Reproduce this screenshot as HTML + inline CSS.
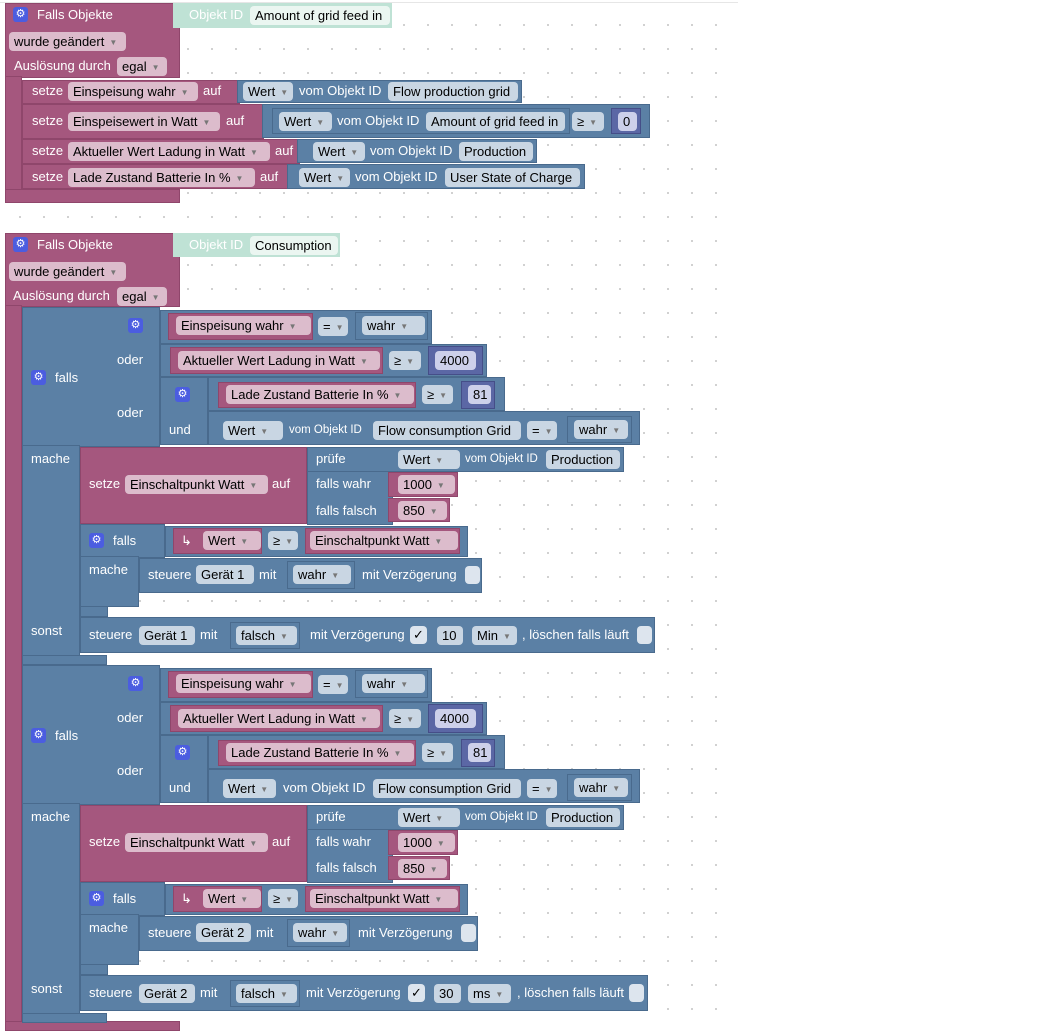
<!DOCTYPE html>
<html><head><meta charset="utf-8"><style>
body{margin:0;width:1046px;height:1031px;background:#fff;position:relative;overflow:hidden;font-family:"Liberation Sans",sans-serif}
.a{position:absolute}
.grid{position:absolute;left:0;top:2px;width:738px;height:1029px;border-top:1px solid #e6e6e6;background-image:radial-gradient(circle,#c8c8c8 0.8px,transparent 1.2px);background-size:24px 24px;background-position:8px 10px}
.M{position:absolute;background:#a5577e;box-shadow:inset 0 0 0 1px rgba(80,20,50,.25)}
.B{position:absolute;background:#5b80a5;box-shadow:inset 0 0 0 1px rgba(20,40,70,.25)}
.N{position:absolute;background:#5b67a5;box-shadow:inset 0 0 0 1px rgba(20,20,70,.3)}
.T{position:absolute;background:#bfe2d5}
.w{position:absolute;color:#fff;font-size:13px;line-height:20px;height:20px;white-space:nowrap}
.s{font-size:11.5px}
.p{position:absolute;height:19px;line-height:19px;border-radius:4px;font-size:13px;padding-left:5px;box-sizing:border-box;color:#000;white-space:nowrap}
.pm{background:#dcbccc}.pb{background:#c9d6e3}.pn{background:#cdd0ea}.pt{background:#ebf6f1}
.p i{font-style:normal;font-size:8px;color:#777;margin-left:5px;vertical-align:1px}
.g{position:absolute;width:15px;height:15px;background:#4b5de0;border-radius:3px;color:#fff;font-size:11px;line-height:15px;text-align:center}
.cb{position:absolute;width:15px;height:18px;background:#dde5ee;border-radius:4px;font-size:13px;line-height:18px;text-align:center;color:#000}
</style></head><body>
<div class="grid"></div>

<!-- BLOCK 1 -->
<div class="M" style="left:5px;top:3px;width:175px;height:75px"></div>
<div class="M" style="left:5px;top:76px;width:17px;height:116px"></div>
<div class="M" style="left:5px;top:189px;width:175px;height:14px"></div>
<div class="g" style="left:13px;top:7px">⚙</div>
<div class="w" style="left:37px;top:5px">Falls Objekte</div>
<div class="p pm" style="left:9px;top:32px;width:117px">wurde geändert<i>▼</i></div>
<div class="w" style="left:14px;top:56px">Auslösung durch</div>
<div class="p pm" style="left:117px;top:57px;width:50px">egal<i>▼</i></div>
<div class="T" style="left:173px;top:3px;width:219px;height:25px"></div>
<div class="w" style="left:189px;top:5px">Objekt ID</div>
<div class="p pt" style="left:250px;top:6px;width:140px">Amount of grid feed in</div>

<div class="M" style="left:22px;top:80px;width:218px;height:24px"></div>
<div class="w" style="left:32px;top:81px">setze</div>
<div class="p pm" style="left:68px;top:82px;width:130px">Einspeisung wahr<i>▼</i></div>
<div class="w" style="left:203px;top:81px">auf</div>
<div class="B" style="left:237px;top:80px;width:285px;height:23px"></div>
<div class="p pb" style="left:243px;top:82px;width:50px">Wert<i>▼</i></div>
<div class="w" style="left:299px;top:81px">vom Objekt ID</div>
<div class="p pb" style="left:388px;top:82px;width:130px">Flow production grid</div>

<div class="M" style="left:22px;top:104px;width:242px;height:35px"></div>
<div class="w" style="left:32px;top:111px">setze</div>
<div class="p pm" style="left:68px;top:112px;width:152px">Einspeisewert in Watt<i>▼</i></div>
<div class="w" style="left:226px;top:111px">auf</div>
<div class="B" style="left:262px;top:104px;width:388px;height:34px"></div>
<div class="B" style="left:272px;top:108px;width:298px;height:26px"></div>
<div class="p pb" style="left:279px;top:112px;width:53px">Wert<i>▼</i></div>
<div class="w" style="left:337px;top:111px">vom Objekt ID</div>
<div class="p pb" style="left:426px;top:112px;width:139px">Amount of grid feed in</div>
<div class="p pb" style="left:572px;top:112px;width:32px">≥<i>▼</i></div>
<div class="N" style="left:611px;top:108px;width:30px;height:26px"></div>
<div class="p pn" style="left:618px;top:112px;width:19px">0</div>

<div class="M" style="left:22px;top:139px;width:278px;height:25px"></div>
<div class="w" style="left:32px;top:141px">setze</div>
<div class="p pm" style="left:68px;top:142px;width:202px">Aktueller Wert Ladung in Watt<i>▼</i></div>
<div class="w" style="left:275px;top:141px">auf</div>
<div class="B" style="left:297px;top:139px;width:240px;height:24px"></div>
<div class="p pb" style="left:313px;top:142px;width:52px">Wert<i>▼</i></div>
<div class="w" style="left:370px;top:141px">vom Objekt ID</div>
<div class="p pb" style="left:459px;top:142px;width:74px">Production</div>

<div class="M" style="left:22px;top:164px;width:268px;height:25px"></div>
<div class="w" style="left:32px;top:167px">setze</div>
<div class="p pm" style="left:68px;top:168px;width:187px">Lade Zustand Batterie In %<i>▼</i></div>
<div class="w" style="left:260px;top:167px">auf</div>
<div class="B" style="left:287px;top:164px;width:298px;height:25px"></div>
<div class="p pb" style="left:299px;top:168px;width:51px">Wert<i>▼</i></div>
<div class="w" style="left:355px;top:167px">vom Objekt ID</div>
<div class="p pb" style="left:445px;top:168px;width:135px">User State of Charge</div>

<!-- BLOCK 2 -->
<div class="M" style="left:5px;top:233px;width:175px;height:74px"></div>
<div class="M" style="left:5px;top:305px;width:17px;height:720px"></div>
<div class="M" style="left:5px;top:1021px;width:175px;height:10px"></div>
<div class="g" style="left:13px;top:237px">⚙</div>
<div class="w" style="left:37px;top:235px">Falls Objekte</div>
<div class="p pm" style="left:9px;top:262px;width:117px">wurde geändert<i>▼</i></div>
<div class="w" style="left:13px;top:286px">Auslösung durch</div>
<div class="p pm" style="left:117px;top:287px;width:50px">egal<i>▼</i></div>
<div class="T" style="left:173px;top:233px;width:167px;height:24px"></div>
<div class="w" style="left:189px;top:235px">Objekt ID</div>
<div class="p pt" style="left:250px;top:236px;width:88px">Consumption</div>

<!-- IF block instance 1 -->
<div class="a" style="left:0;top:0">
<div class="B" style="left:22px;top:307px;width:138px;height:140px"></div>
<div class="B" style="left:22px;top:445px;width:58px;height:220px"></div>
<div class="B" style="left:22px;top:655px;width:85px;height:10px"></div>
<div class="B" style="left:80px;top:605px;width:28px;height:12px"></div>
<div class="g" style="left:31px;top:370px">⚙</div>
<div class="w" style="left:55px;top:368px">falls</div>
<div class="w" style="left:31px;top:449px">mache</div>
<div class="w" style="left:31px;top:621px">sonst</div>
<div class="w" style="left:117px;top:350px">oder</div>
<div class="w" style="left:117px;top:403px">oder</div>
<div class="g" style="left:128px;top:318px">⚙</div>
<div class="B" style="left:160px;top:310px;width:272px;height:34px"></div>
<div class="M" style="left:168px;top:313px;width:145px;height:27px"></div>
<div class="p pm" style="left:176px;top:316px;width:135px">Einspeisung wahr<i>▼</i></div>
<div class="p pb" style="left:318px;top:317px;width:30px">=<i>▼</i></div>
<div class="B" style="left:355px;top:312px;width:73px;height:28px"></div>
<div class="p pb" style="left:362px;top:316px;width:63px">wahr<i>▼</i></div>
<div class="B" style="left:160px;top:344px;width:327px;height:33px"></div>
<div class="M" style="left:170px;top:347px;width:213px;height:27px"></div>
<div class="p pm" style="left:178px;top:351px;width:202px">Aktueller Wert Ladung in Watt<i>▼</i></div>
<div class="p pb" style="left:389px;top:351px;width:32px">≥<i>▼</i></div>
<div class="N" style="left:428px;top:346px;width:55px;height:29px"></div>
<div class="p pn" style="left:435px;top:351px;width:41px">4000</div>
<div class="B" style="left:160px;top:377px;width:48px;height:68px"></div>
<div class="B" style="left:208px;top:377px;width:297px;height:34px"></div>
<div class="B" style="left:208px;top:411px;width:432px;height:34px"></div>
<div class="g" style="left:175px;top:387px">⚙</div>
<div class="w" style="left:169px;top:420px">und</div>
<div class="M" style="left:218px;top:382px;width:198px;height:26px"></div>
<div class="p pm" style="left:226px;top:385px;width:188px">Lade Zustand Batterie In %<i>▼</i></div>
<div class="p pb" style="left:422px;top:385px;width:31px">≥<i>▼</i></div>
<div class="N" style="left:461px;top:381px;width:34px;height:28px"></div>
<div class="p pn" style="left:468px;top:385px;width:23px">81</div>
<div class="p pb" style="left:223px;top:421px;width:60px">Wert<i>▼</i></div>
<div class="w s" style="left:289px;top:420px">vom Objekt ID</div>
<div class="p pb" style="left:373px;top:421px;width:148px">Flow consumption Grid</div>
<div class="p pb" style="left:527px;top:421px;width:30px">=<i>▼</i></div>
<div class="B" style="left:567px;top:416px;width:65px;height:27px"></div>
<div class="p pb" style="left:574px;top:420px;width:54px">wahr<i>▼</i></div>
<div class="M" style="left:80px;top:447px;width:227px;height:77px"></div>
<div class="w" style="left:89px;top:474px">setze</div>
<div class="p pm" style="left:125px;top:475px;width:143px">Einschaltpunkt Watt<i>▼</i></div>
<div class="w" style="left:272px;top:474px">auf</div>
<div class="B" style="left:307px;top:447px;width:317px;height:25px"></div>
<div class="B" style="left:307px;top:471px;width:86px;height:54px"></div>
<div class="w" style="left:316px;top:449px">prüfe</div>
<div class="w" style="left:316px;top:474px">falls wahr</div>
<div class="w" style="left:316px;top:501px">falls falsch</div>
<div class="p pb" style="left:398px;top:450px;width:62px">Wert<i>▼</i></div>
<div class="w s" style="left:465px;top:449px">vom Objekt ID</div>
<div class="p pb" style="left:546px;top:450px;width:74px">Production</div>
<div class="M" style="left:388px;top:472px;width:70px;height:25px"></div>
<div class="p pm" style="left:398px;top:475px;width:57px">1000<i>▼</i></div>
<div class="M" style="left:388px;top:498px;width:62px;height:24px"></div>
<div class="p pm" style="left:398px;top:501px;width:49px">850<i>▼</i></div>
<div class="B" style="left:80px;top:524px;width:85px;height:34px"></div>
<div class="B" style="left:80px;top:556px;width:59px;height:51px"></div>
<div class="B" style="left:165px;top:526px;width:303px;height:31px"></div>
<div class="g" style="left:89px;top:533px">⚙</div>
<div class="w" style="left:113px;top:531px">falls</div>
<div class="w" style="left:89px;top:560px">mache</div>
<div class="M" style="left:173px;top:528px;width:89px;height:26px"></div>
<div class="w" style="left:181px;top:531px">↳</div>
<div class="p pm" style="left:203px;top:531px;width:58px">Wert<i>▼</i></div>
<div class="p pb" style="left:268px;top:531px;width:30px">≥<i>▼</i></div>
<div class="M" style="left:305px;top:528px;width:155px;height:26px"></div>
<div class="p pm" style="left:310px;top:531px;width:148px">Einschaltpunkt Watt<i>▼</i></div>
<div class="B" style="left:139px;top:558px;width:343px;height:35px"></div>
<div class="w" style="left:148px;top:565px">steuere</div>
<div class="p pb" style="left:196px;top:565px;width:58px">Gerät 1</div>
<div class="w" style="left:259px;top:565px">mit</div>
<div class="B" style="left:287px;top:561px;width:68px;height:28px"></div>
<div class="p pb" style="left:293px;top:565px;width:58px">wahr<i>▼</i></div>
<div class="w" style="left:362px;top:565px">mit Verzögerung</div>
<div class="cb" style="left:465px;top:566px"></div>
<div class="B" style="left:80px;top:617px;width:575px;height:36px"></div>
<div class="w" style="left:89px;top:625px">steuere</div>
<div class="p pb" style="left:139px;top:626px;width:56px">Gerät 1</div>
<div class="w" style="left:200px;top:625px">mit</div>
<div class="B" style="left:230px;top:622px;width:70px;height:27px"></div>
<div class="p pb" style="left:236px;top:626px;width:61px">falsch<i>▼</i></div>
<div class="w" style="left:310px;top:625px">mit Verzögerung</div>
<div class="cb" style="left:410px;top:626px;width:17px">✓</div>
<div class="p pb" style="left:437px;top:626px;width:26px">10</div>
<div class="p pb" style="left:472px;top:626px;width:45px">Min<i>▼</i></div>
<div class="w" style="left:522px;top:625px">, löschen falls läuft</div>
<div class="cb" style="left:637px;top:626px"></div>
</div>

<!-- IF block instance 2 -->
<div class="a" style="left:0;top:358px">
<div class="B" style="left:22px;top:307px;width:138px;height:140px"></div>
<div class="B" style="left:22px;top:445px;width:58px;height:220px"></div>
<div class="B" style="left:22px;top:655px;width:85px;height:10px"></div>
<div class="B" style="left:80px;top:605px;width:28px;height:12px"></div>
<div class="g" style="left:31px;top:370px">⚙</div>
<div class="w" style="left:55px;top:368px">falls</div>
<div class="w" style="left:31px;top:449px">mache</div>
<div class="w" style="left:31px;top:621px">sonst</div>
<div class="w" style="left:117px;top:350px">oder</div>
<div class="w" style="left:117px;top:403px">oder</div>
<div class="g" style="left:128px;top:318px">⚙</div>
<div class="B" style="left:160px;top:310px;width:272px;height:34px"></div>
<div class="M" style="left:168px;top:313px;width:145px;height:27px"></div>
<div class="p pm" style="left:176px;top:316px;width:135px">Einspeisung wahr<i>▼</i></div>
<div class="p pb" style="left:318px;top:317px;width:30px">=<i>▼</i></div>
<div class="B" style="left:355px;top:312px;width:73px;height:28px"></div>
<div class="p pb" style="left:362px;top:316px;width:63px">wahr<i>▼</i></div>
<div class="B" style="left:160px;top:344px;width:327px;height:33px"></div>
<div class="M" style="left:170px;top:347px;width:213px;height:27px"></div>
<div class="p pm" style="left:178px;top:351px;width:202px">Aktueller Wert Ladung in Watt<i>▼</i></div>
<div class="p pb" style="left:389px;top:351px;width:32px">≥<i>▼</i></div>
<div class="N" style="left:428px;top:346px;width:55px;height:29px"></div>
<div class="p pn" style="left:435px;top:351px;width:41px">4000</div>
<div class="B" style="left:160px;top:377px;width:48px;height:68px"></div>
<div class="B" style="left:208px;top:377px;width:297px;height:34px"></div>
<div class="B" style="left:208px;top:411px;width:432px;height:34px"></div>
<div class="g" style="left:175px;top:387px">⚙</div>
<div class="w" style="left:169px;top:420px">und</div>
<div class="M" style="left:218px;top:382px;width:198px;height:26px"></div>
<div class="p pm" style="left:226px;top:385px;width:188px">Lade Zustand Batterie In %<i>▼</i></div>
<div class="p pb" style="left:422px;top:385px;width:31px">≥<i>▼</i></div>
<div class="N" style="left:461px;top:381px;width:34px;height:28px"></div>
<div class="p pn" style="left:468px;top:385px;width:23px">81</div>
<div class="p pb" style="left:223px;top:421px;width:53px">Wert<i>▼</i></div>
<div class="w" style="left:283px;top:420px">vom Objekt ID</div>
<div class="p pb" style="left:373px;top:421px;width:148px">Flow consumption Grid</div>
<div class="p pb" style="left:527px;top:421px;width:30px">=<i>▼</i></div>
<div class="B" style="left:567px;top:416px;width:65px;height:27px"></div>
<div class="p pb" style="left:574px;top:420px;width:54px">wahr<i>▼</i></div>
<div class="M" style="left:80px;top:447px;width:227px;height:77px"></div>
<div class="w" style="left:89px;top:474px">setze</div>
<div class="p pm" style="left:125px;top:475px;width:143px">Einschaltpunkt Watt<i>▼</i></div>
<div class="w" style="left:272px;top:474px">auf</div>
<div class="B" style="left:307px;top:447px;width:317px;height:25px"></div>
<div class="B" style="left:307px;top:471px;width:86px;height:54px"></div>
<div class="w" style="left:316px;top:449px">prüfe</div>
<div class="w" style="left:316px;top:474px">falls wahr</div>
<div class="w" style="left:316px;top:500px">falls falsch</div>
<div class="p pb" style="left:398px;top:450px;width:62px">Wert<i>▼</i></div>
<div class="w s" style="left:465px;top:449px">vom Objekt ID</div>
<div class="p pb" style="left:546px;top:450px;width:74px">Production</div>
<div class="M" style="left:388px;top:472px;width:70px;height:25px"></div>
<div class="p pm" style="left:398px;top:475px;width:57px">1000<i>▼</i></div>
<div class="M" style="left:388px;top:498px;width:62px;height:24px"></div>
<div class="p pm" style="left:398px;top:501px;width:49px">850<i>▼</i></div>
<div class="B" style="left:80px;top:524px;width:85px;height:34px"></div>
<div class="B" style="left:80px;top:556px;width:59px;height:51px"></div>
<div class="B" style="left:165px;top:526px;width:303px;height:31px"></div>
<div class="g" style="left:89px;top:533px">⚙</div>
<div class="w" style="left:113px;top:531px">falls</div>
<div class="w" style="left:89px;top:560px">mache</div>
<div class="M" style="left:173px;top:528px;width:89px;height:26px"></div>
<div class="w" style="left:181px;top:531px">↳</div>
<div class="p pm" style="left:203px;top:531px;width:58px">Wert<i>▼</i></div>
<div class="p pb" style="left:268px;top:531px;width:30px">≥<i>▼</i></div>
<div class="M" style="left:305px;top:528px;width:155px;height:26px"></div>
<div class="p pm" style="left:310px;top:531px;width:148px">Einschaltpunkt Watt<i>▼</i></div>
<div class="B" style="left:139px;top:558px;width:339px;height:35px"></div>
<div class="w" style="left:148px;top:565px">steuere</div>
<div class="p pb" style="left:196px;top:565px;width:55px">Gerät 2</div>
<div class="w" style="left:256px;top:565px">mit</div>
<div class="B" style="left:287px;top:561px;width:63px;height:28px"></div>
<div class="p pb" style="left:293px;top:565px;width:54px">wahr<i>▼</i></div>
<div class="w" style="left:358px;top:565px">mit Verzögerung</div>
<div class="cb" style="left:461px;top:566px"></div>
<div class="B" style="left:80px;top:617px;width:568px;height:36px"></div>
<div class="w" style="left:89px;top:625px">steuere</div>
<div class="p pb" style="left:139px;top:626px;width:56px">Gerät 2</div>
<div class="w" style="left:200px;top:625px">mit</div>
<div class="B" style="left:230px;top:622px;width:70px;height:27px"></div>
<div class="p pb" style="left:236px;top:626px;width:61px">falsch<i>▼</i></div>
<div class="w" style="left:306px;top:625px">mit Verzögerung</div>
<div class="cb" style="left:408px;top:626px;width:17px">✓</div>
<div class="p pb" style="left:434px;top:626px;width:27px">30</div>
<div class="p pb" style="left:468px;top:626px;width:43px">ms<i>▼</i></div>
<div class="w" style="left:517px;top:625px">, löschen falls läuft</div>
<div class="cb" style="left:629px;top:626px"></div>
</div>
</body></html>
